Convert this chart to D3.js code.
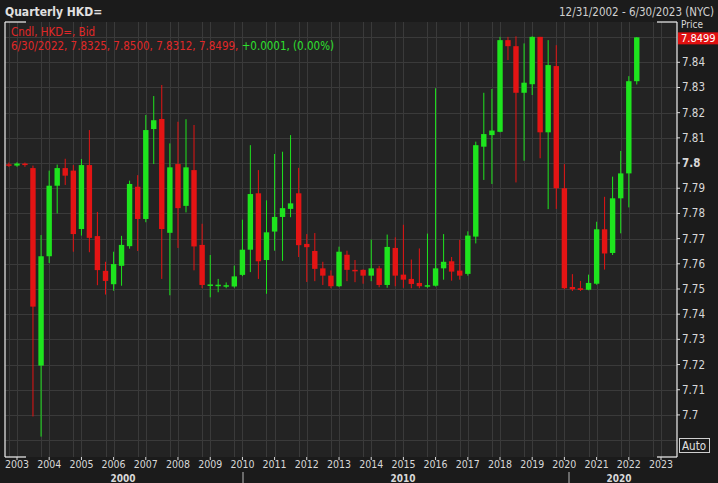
<!DOCTYPE html>
<html><head><meta charset="utf-8">
<script src="https://cdn.jsdelivr.net/npm/d3@7"></script>
<style>
  body { margin: 0; background: #1b1b1b; }
  svg text { font-family: "DejaVu Sans Condensed", "Liberation Sans Narrow", "Liberation Sans", sans-serif; }
</style>
</head><body>
<svg id="chart" width="718" height="483"></svg>
<script>
// quarterly candles, Q4 2002 .. Q2 2022
const firstQuarter = new Date(2002, 9, 1);
const opens  = [7.7995,7.7990,7.7998,7.798,7.7196,7.763,7.791,7.798,7.797,7.7738,7.7992,7.771,7.7572,7.7519,7.7592,7.767,7.7906,7.7778,7.8135,7.8175,7.7723,7.7996,7.783,7.7972,7.7675,7.7515,7.7515,7.7513,7.7510,7.7556,7.7656,7.788,7.7615,7.7728,7.7786,7.7818,7.788,7.7679,7.7651,7.7582,7.7553,7.7511,7.7636,7.7576,7.7576,7.7553,7.7582,7.7516,7.7663,7.7557,7.754,7.7524,7.7513,7.7513,7.7582,7.761,7.7573,7.7560,7.7708,7.8065,7.8111,7.8124,7.8488,7.8464,7.8279,7.8313,7.8501,7.8122,7.8385,7.79,7.7508,7.7503,7.7497,7.7521,7.7737,7.7643,7.786,7.7959,7.8325];
const closes = [7.7990,7.7998,7.7992,7.743,7.763,7.791,7.798,7.795,7.7718,7.7992,7.7703,7.7575,7.7532,7.7599,7.7675,7.7917,7.7778,7.8131,7.817,7.7738,7.7983,7.7821,7.7983,7.7669,7.7516,7.7518,7.7517,7.7515,7.7550,7.7656,7.7877,7.761,7.7725,7.7786,7.7821,7.784,7.7674,7.7666,7.758,7.7553,7.7511,7.7648,7.7576,7.7574,7.7553,7.7582,7.7516,7.7667,7.7553,7.7537,7.752,7.7511,7.7515,7.7582,7.7608,7.7569,7.7553,7.7712,7.8071,7.8115,7.8129,7.8488,7.8464,7.8279,7.8319,7.8501,7.8122,7.8389,7.79,7.7503,7.7499,7.7496,7.7524,7.7737,7.7641,7.786,7.7959,7.8325,7.8499];
const highs  = [7.8002,7.8003,7.8002,7.799,7.7714,7.797,7.7994,7.8017,7.7992,7.8016,7.8131,7.7806,7.7608,7.7648,7.7711,7.793,7.7952,7.8191,7.8266,7.8310,7.8078,7.8164,7.8174,7.8151,7.7759,7.7635,7.754,7.7526,7.7593,7.7775,7.8071,7.7972,7.7852,7.8036,7.8045,7.8111,7.7981,7.7718,7.7722,7.7608,7.7574,7.7668,7.7652,7.7615,7.7578,7.7696,7.7592,7.7716,7.7705,7.7755,7.7617,7.7661,7.772,7.8297,7.7718,7.7627,7.7695,7.7729,7.8085,7.8279,7.8294,7.8501,7.8501,7.8503,7.8475,7.8503,7.8501,7.8488,7.8468,7.7996,7.7559,7.7532,7.7557,7.7767,7.7866,7.7946,7.8048,7.8345,7.8500];
const lows   = [7.7985,7.7985,7.7985,7.6994,7.6914,7.7603,7.780,7.7913,7.7648,7.7712,7.7646,7.7515,7.7478,7.7493,7.7513,7.766,7.7651,7.7765,7.7996,7.754,7.7475,7.7663,7.7804,7.7574,7.7503,7.7467,7.7487,7.7503,7.7505,7.7551,7.7567,7.754,7.7481,7.7652,7.7612,7.7785,7.7627,7.7528,7.7531,7.7516,7.7503,7.7508,7.7531,7.7527,7.7521,7.7531,7.7507,7.7505,7.7511,7.7505,7.7503,7.7503,7.7505,7.7510,7.7537,7.7533,7.7537,7.7553,7.7681,7.7933,7.7917,7.8122,7.8409,7.7923,7.8009,7.8270,7.8019,7.7817,7.7818,7.7499,7.7492,7.7492,7.7495,7.7517,7.7577,7.7635,7.7721,7.7824,7.8312];
const priceTicks = [7.70,7.71,7.72,7.73,7.74,7.75,7.76,7.77,7.78,7.79,7.80,7.81,7.82,7.83,7.84];
const yearLabels = d3.range(2003, 2024);
const decades = [{label: '2000', x: 123}, {label: '2010', x: 403}, {label: '2020', x: 619}];

const up = '#1ee41e', down = '#e41414';
const svg = d3.select('#chart');
const plotLeft = 5, plotRight = 677, plotTop = 22, plotBottom = 457;

const candles = opens.map((o, i) => ({
  date: d3.timeMonth.offset(firstQuarter, i * 3),
  open: o, close: closes[i], high: highs[i], low: lows[i]
}));

const x = d3.scaleTime().domain([new Date(2003, 0, 1), new Date(2023, 0, 1)]).range([17, 661]);
const y = d3.scaleLinear().domain([7.6833, 7.856]).range([plotBottom, plotTop]);

// header
svg.append('rect').attr('width', 718).attr('height', 483).attr('fill', '#1b1b1b');
svg.append('rect').attr('x', plotLeft).attr('y', plotTop).attr('width', plotRight - plotLeft).attr('height', plotBottom - plotTop).attr('fill', '#232323');
svg.append('text').attr('x', 5).attr('y', 16).attr('fill', '#e0e0e0').attr('font-size', 12).attr('font-weight', 'bold').text('Quarterly HKD=');
svg.append('text').attr('x', 714).attr('y', 16).attr('text-anchor', 'end').attr('fill', '#d0d0d0').attr('font-size', 11.5).text('12/31/2002 - 6/30/2023 (NYC)');

// grid
const grid = svg.append('g').attr('stroke', '#3a3a3a').attr('stroke-width', 1);
d3.range(7.69, 7.856, 0.01).forEach(p => {
  grid.append('line').attr('x1', plotLeft).attr('x2', plotRight).attr('y1', Math.round(y(p)) + 0.5).attr('y2', Math.round(y(p)) + 0.5);
});
yearLabels.forEach(yr => {
  [new Date(yr, 0, 1), new Date(yr - 1, 9, 1)].forEach(d => {
    const px = Math.round(x(d)) + 0.5;
    if (px > plotLeft && px < plotRight) grid.append('line').attr('x1', px).attr('x2', px).attr('y1', plotTop).attr('y2', plotBottom);
  });
});

// frame
const frame = svg.append('g').attr('stroke', '#f0f0f0').attr('stroke-width', 1.2).attr('fill', 'none');
frame.append('line').attr('x1', plotLeft).attr('x2', plotLeft).attr('y1', plotTop).attr('y2', plotBottom);
frame.append('line').attr('x1', plotRight).attr('x2', plotRight).attr('y1', plotTop).attr('y2', plotBottom);
frame.append('line').attr('x1', plotLeft).attr('x2', 26).attr('y1', plotTop).attr('y2', plotTop);
frame.append('line').attr('x1', 657).attr('x2', plotRight).attr('y1', plotTop).attr('y2', plotTop);
frame.append('line').attr('x1', plotLeft).attr('x2', 26).attr('y1', plotBottom).attr('y2', plotBottom);
frame.append('line').attr('x1', 657).attr('x2', plotRight).attr('y1', plotBottom).attr('y2', plotBottom);

// candles
const cg = svg.append('g').selectAll('g').data(candles).join('g')
  .attr('transform', d => `translate(${x(d.date)},0)`);
cg.append('line')
  .attr('y1', d => y(d.high)).attr('y2', d => y(d.low))
  .attr('stroke', d => d.close >= d.open ? up : down).attr('stroke-width', 1);
cg.append('rect')
  .attr('x', -2.7).attr('width', 5.4)
  .attr('y', d => y(Math.max(d.open, d.close)))
  .attr('height', d => Math.max(1.5, Math.abs(y(d.open) - y(d.close))))
  .attr('fill', d => d.close >= d.open ? up : down);

// legend
svg.append('text').attr('x', 11).attr('y', 36).attr('fill', '#e02828').attr('font-size', 11.5).text('Cndl, HKD=, Bid');
const lg = svg.append('text').attr('x', 11).attr('y', 50).attr('font-size', 11.5);
lg.append('tspan').attr('fill', '#e02828').text('6/30/2022, 7.8325, 7.8500, 7.8312, 7.8499, ');
lg.append('tspan').attr('fill', '#2ee02e').text('+0.0001, (0.00%)');

// right axis
const ra = svg.append('g');
priceTicks.forEach(p => {
  const py = y(p);
  ra.append('line').attr('x1', plotRight).attr('x2', plotRight + 3).attr('y1', py).attr('y2', py).attr('stroke', '#ddd');
  ra.append('text').attr('x', 682).attr('y', py + 4).attr('fill', '#d8d8d8').attr('font-size', 11.5)
    .attr('font-weight', Math.abs(p - 7.8) < 1e-6 ? 'bold' : 'normal')
    .text(+p.toFixed(2));
});
ra.append('text').attr('x', 681).attr('y', 28).attr('fill', '#d8d8d8').attr('font-size', 10).text('Price');
ra.append('rect').attr('x', plotRight + 1).attr('y', y(7.8499) - 5).attr('width', 41).attr('height', 12).attr('fill', '#e01010');
ra.append('text').attr('x', 681).attr('y', y(7.8499) + 5).attr('fill', '#fff').attr('font-size', 11).text('7.8499');
ra.append('rect').attr('x', 679.5).attr('y', 438.5).attr('width', 30).attr('height', 14).attr('fill', '#1b1b1b').attr('stroke', '#cfcfcf');
ra.append('text').attr('x', 682).attr('y', 450).attr('fill', '#e0e0e0').attr('font-size', 11.5).text('Auto');

// bottom axis
const ba = svg.append('g');
yearLabels.forEach(yr => {
  const px = x(new Date(yr, 0, 1));
  ba.append('line').attr('x1', px).attr('x2', px).attr('y1', plotBottom).attr('y2', plotBottom + 3).attr('stroke', '#ddd');
  ba.append('text').attr('x', px).attr('y', 468).attr('text-anchor', 'middle').attr('fill', '#d8d8d8').attr('font-size', 10.5).text(yr);
});
decades.forEach(d => {
  ba.append('text').attr('x', d.x).attr('y', 482).attr('text-anchor', 'middle').attr('fill', '#d8d8d8')
    .attr('font-size', 10).attr('font-weight', 'bold').text(d.label);
});
[243, 569].forEach(px => ba.append('line').attr('x1', px).attr('x2', px).attr('y1', 472).attr('y2', 483).attr('stroke', '#bbb'));
</script>
</body></html>
